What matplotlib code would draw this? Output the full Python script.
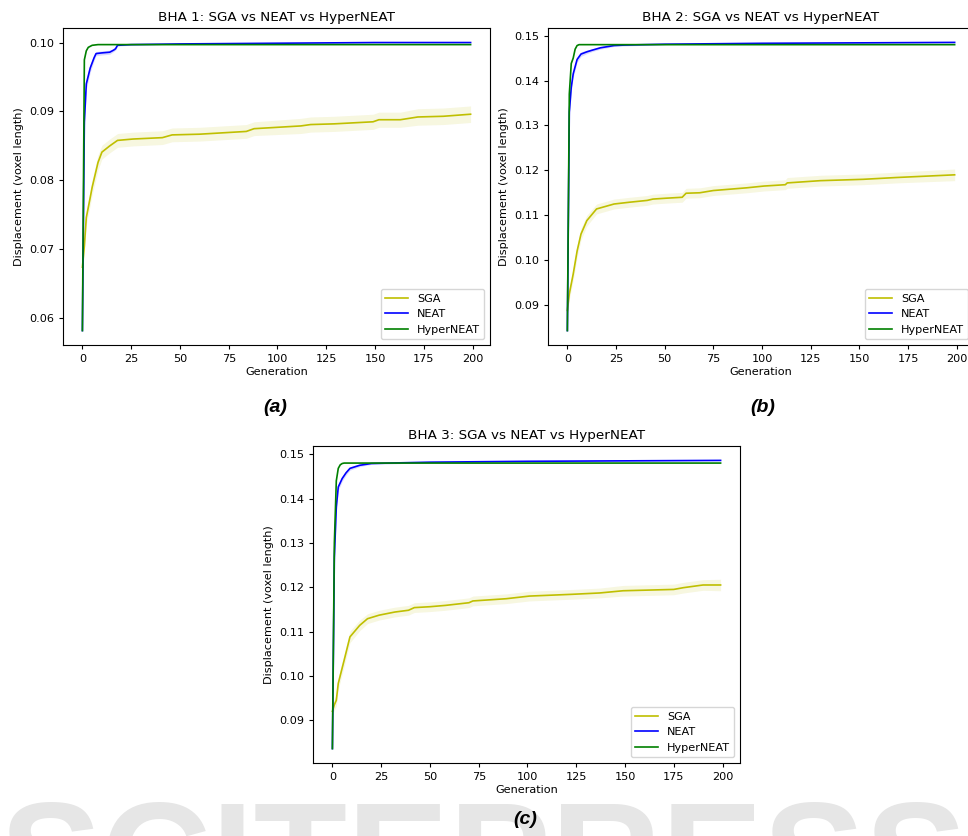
import numpy as np
import matplotlib.pyplot as plt

# -------------------------------
# Data
# -------------------------------
# (a) BHA 1
a_sga_gen = [0, 1, 2, 4, 5, 8, 10, 14, 18, 26, 41, 46, 60, 84, 88, 112, 117, 129, 149, 152, 163, 172, 185, 199]
a_sga = [0.0674, 0.0705, 0.0746, 0.0775, 0.0790, 0.0826, 0.0841, 0.0850, 0.0858, 0.0860, 0.0862, 0.0866,
         0.0867, 0.0871, 0.0875, 0.0879, 0.0881, 0.0882, 0.0885, 0.0888, 0.0888, 0.0892, 0.0893, 0.0896]
a_sga_err = [0.0008, 0.0010, 0.0011, 0.0011, 0.0011, 0.0011, 0.0010, 0.0010, 0.0010, 0.0010, 0.0010, 0.0010,
             0.0010, 0.0010, 0.0010, 0.0011, 0.0011, 0.0011, 0.0011, 0.0011, 0.0011, 0.0012, 0.0012, 0.0012]
a_neat_gen = [0, 1, 2, 4, 6, 7, 10, 14, 16, 17, 18, 25, 50, 100, 150, 199]
a_neat = [0.0582, 0.0885, 0.0940, 0.0963, 0.0978, 0.0984, 0.0985, 0.0986, 0.0989, 0.0991, 0.0996, 0.0997,
          0.0998, 0.0999, 0.1000, 0.1000]
a_neat_err = [0.0, 0.0010, 0.0008, 0.0006, 0.0004, 0.0003, 0.0003, 0.0003, 0.0002, 0.0002, 0.0001, 0.0001,
              0.00005, 0.00003, 0.00002, 0.0]
a_hyper_gen = [0, 1, 2, 3, 5, 8, 50, 199]
a_hyper = [0.0582, 0.0975, 0.0988, 0.0993, 0.0996, 0.0997, 0.0997, 0.0997]

# (b) BHA 2
b_sga_gen = [0, 1, 3, 5, 7, 10, 15, 24, 32, 41, 44, 51, 59, 61, 68, 75, 92, 101, 112, 113, 130, 152, 169, 199]
b_sga = [0.0888, 0.0925, 0.0969, 0.1020, 0.1058, 0.1088, 0.1114, 0.1125, 0.1129, 0.1133, 0.1136, 0.1138,
         0.1140, 0.1149, 0.1150, 0.1155, 0.1161, 0.1165, 0.1168, 0.1172, 0.1177, 0.1180, 0.1184, 0.1190]
b_sga_err = [0.0008, 0.0012, 0.0014, 0.0014, 0.0013, 0.0012, 0.0011, 0.0011, 0.0011, 0.0011, 0.0011, 0.0011,
             0.0011, 0.0011, 0.0011, 0.0011, 0.0011, 0.0011, 0.0011, 0.0012, 0.0012, 0.0012, 0.0012, 0.0013]
b_neat_gen = [0, 1, 2, 3, 5, 7, 10, 13, 17, 24, 29, 50, 100, 150, 199]
b_neat = [0.0843, 0.1330, 0.1385, 0.1415, 0.1447, 0.1459, 0.1464, 0.1468, 0.1473, 0.1478, 0.1479, 0.1481,
          0.1483, 0.1484, 0.1485]
b_neat_err = [0.0, 0.0012, 0.0010, 0.0008, 0.0006, 0.0005, 0.0004, 0.0003, 0.0003, 0.0002, 0.0002, 0.0001,
              0.00005, 0.00003, 0.0]
b_hyper_gen = [0, 1, 2, 3, 4, 5, 6, 199]
b_hyper = [0.0843, 0.1370, 0.1438, 0.1450, 0.1470, 0.1478, 0.1480, 0.1480]

# (c) BHA 3
c_sga_gen = [0, 1, 2, 3, 6, 9, 14, 18, 24, 32, 39, 42, 50, 58, 70, 72, 89, 101, 123, 137, 149, 175, 180, 190, 199]
c_sga = [0.0920, 0.0935, 0.0945, 0.0983, 0.1035, 0.1088, 0.1114, 0.1129, 0.1137, 0.1144, 0.1148, 0.1154,
         0.1156, 0.1159, 0.1165, 0.1169, 0.1174, 0.1180, 0.1184, 0.1187, 0.1192, 0.1195, 0.1199, 0.1205, 0.1205]
c_sga_err = [0.0008, 0.0012, 0.0013, 0.0014, 0.0014, 0.0013, 0.0012, 0.0011, 0.0011, 0.0011, 0.0011, 0.0011,
             0.0011, 0.0011, 0.0011, 0.0011, 0.0011, 0.0011, 0.0011, 0.0011, 0.0012, 0.0012, 0.0012, 0.0012, 0.0013]
c_neat_gen = [0, 1, 2, 3, 5, 7, 9, 14, 20, 29, 50, 100, 150, 199]
c_neat = [0.0836, 0.1268, 0.1381, 0.1426, 0.1445, 0.1458, 0.1468, 0.1475, 0.1479, 0.1480, 0.1482, 0.1484,
          0.1485, 0.1486]
c_neat_err = [0.0, 0.0012, 0.0010, 0.0008, 0.0006, 0.0005, 0.0004, 0.0003, 0.0002, 0.0002, 0.0001, 0.00005,
              0.00003, 0.0]
c_hyper_gen = [0, 1, 2, 3, 4, 5, 6, 199]
c_hyper = [0.0836, 0.1300, 0.1440, 0.1468, 0.1476, 0.1479, 0.1480, 0.1480]

titles = ['BHA 1: SGA vs NEAT vs HyperNEAT',
          'BHA 2: SGA vs NEAT vs HyperNEAT',
          'BHA 3: SGA vs NEAT vs HyperNEAT']
panel_tags = ['(a)', '(b)', '(c)']

FS = 8.1
plt.rcParams['font.size'] = FS
plt.rcParams['xtick.major.size'] = 2.8
plt.rcParams['ytick.major.size'] = 2.8
plt.rcParams['axes.linewidth'] = 0.8


def draw_panel(ax, title, sga, neat, hyper):
    g, v, e = (np.array(x) for x in sga)
    ax.fill_between(g, v - e, v + e, color='y', alpha=0.12, lw=0)
    ax.plot(g, v, color='y', lw=1.2, label='SGA')
    g, v, e = (np.array(x) for x in neat)
    ax.fill_between(g, v - e, v + e, color='b', alpha=0.15, lw=0)
    ax.plot(g, v, color='b', lw=1.2, label='NEAT')
    g, v = (np.array(x) for x in hyper)
    ax.plot(g, v, color='g', lw=1.2, label='HyperNEAT')
    ax.set_xticks([0, 25, 50, 75, 100, 125, 150, 175, 200])
    ax.set_title(title, fontsize=9.7, pad=5)
    ax.set_xlabel('Generation', labelpad=2)
    ax.set_ylabel('Displacement (voxel length)', labelpad=4)
    ax.legend(loc='lower right', fontsize=FS)


fig = plt.figure(figsize=(9.68, 8.36), dpi=100)
W, H = 968, 836

# водяной знак (под графиками)
fig.text(0.5, 1 - 909 / H, 'SCITEPRESS', ha='center', va='baseline', fontsize=110,
         fontweight='bold', color='#e6e6e6', family='Liberation Sans', zorder=-1)

ax_a = fig.add_axes([63 / W, 1 - 345 / H, 427 / W, 317 / H])
ax_b = fig.add_axes([548 / W, 1 - 345 / H, 426 / W, 317 / H])
ax_c = fig.add_axes([313 / W, 1 - 763 / H, 427 / W, 317 / H])

draw_panel(ax_a, titles[0], (a_sga_gen, a_sga, a_sga_err), (a_neat_gen, a_neat, a_neat_err), (a_hyper_gen, a_hyper))
draw_panel(ax_b, titles[1], (b_sga_gen, b_sga, b_sga_err), (b_neat_gen, b_neat, b_neat_err), (b_hyper_gen, b_hyper))
draw_panel(ax_c, titles[2], (c_sga_gen, c_sga, c_sga_err), (c_neat_gen, c_neat, c_neat_err), (c_hyper_gen, c_hyper))

# подписи панелей
tag_pos = [(275, 408), (763, 408), (525, 820)]
for tag, (x, y) in zip(panel_tags, tag_pos):
    fig.text(x / W, 1 - y / H, tag, ha='center', va='center', fontsize=14,
             fontweight='bold', fontstyle='italic', family='Liberation Sans')

fig.savefig('out.png', dpi=100)
